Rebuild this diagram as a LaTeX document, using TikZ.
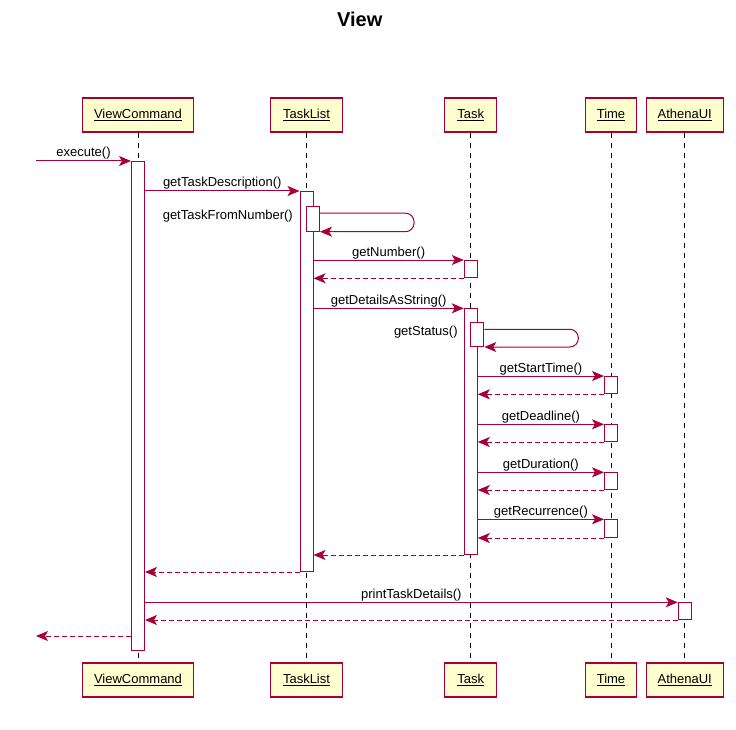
\documentclass[tikz,border=0pt]{standalone}
\usepackage{fontspec}
\setmainfont{Liberation Sans}
\usetikzlibrary{arrows.meta,calc}
\definecolor{pu}{HTML}{A80036}
\definecolor{pufill}{HTML}{FEFECE}
\begin{document}
\begin{tikzpicture}[x=1pt,y=-1pt,
  part/.style={draw=pu, line width=1.1pt, fill=pufill, minimum height=34pt, inner sep=0pt, font=\fontsize{13}{15}\selectfont},
  act/.style={draw=pu, line width=1pt, fill=white, minimum width=13pt, inner sep=0pt, anchor=north},
  life/.style={black, line width=0.9pt, dash pattern=on 5pt off 5pt},
  msg/.style={pu, line width=1pt, -{Stealth[length=12pt,width=10pt,inset=3pt]}},
  ret/.style={msg, dash pattern=on 5pt off 3pt},
  lbl/.style={font=\fontsize{13}{15}\selectfont, text=black, inner sep=0pt, anchor=base, yshift=4pt},
  slbl/.style={font=\fontsize{13}{15}\selectfont, text=black, inner sep=0pt, anchor=base east},
  title/.style={font=\bfseries\fontsize{20}{24}\selectfont, inner sep=0pt, anchor=base}
]
\useasboundingbox (0,0) rectangle (736,730);
\fill[white] (0,0) rectangle (736,730);

\node[title] (ttl) at (359.7,26.7) {View};

% participants top
\node[part, minimum width=111pt] (vc) at (138,115) {\underline{ViewCommand}};
\node[part, minimum width=72pt] (tl) at (306.5,115) {\underline{TaskList}};
\node[part, minimum width=52pt] (tk) at (470.8,115) {\underline{Task}};
\node[part, minimum width=51pt] (tm) at (611,115) {\underline{Time}};
\node[part, minimum width=77pt] (au) at (684.7,115) {\underline{AthenaUI}};
% participants bottom
\node[part, minimum width=111pt] (vcb) at (138,680) {\underline{ViewCommand}};
\node[part, minimum width=72pt] (tlb) at (306.5,680) {\underline{TaskList}};
\node[part, minimum width=52pt] (tkb) at (470.8,680) {\underline{Task}};
\node[part, minimum width=51pt] (tmb) at (611,680) {\underline{Time}};
\node[part, minimum width=77pt] (aub) at (684.7,680) {\underline{AthenaUI}};

% lifelines
\draw[life] (vc.south) -- (vcb.north);
\draw[life] (tl.south) -- (tlb.north);
\draw[life] (tk.south) -- (tkb.north);
\draw[life] (tm.south) -- (tmb.north);
\draw[life] (au.south) -- (aub.north);

% activations
\node[act, minimum height=489pt] (vcA) at (138,161) {};
\node[act, minimum height=380pt] (tlA) at (306.5,191) {};
\node[act, minimum height=25pt] (tlS) at (313,205.7) {};
\node[act, minimum height=17.3pt] (tkA1) at (470.8,260) {};
\node[act, minimum height=245.7pt] (tkA2) at (470.8,308.3) {};
\node[act, minimum height=24.3pt] (tkS) at (477.3,321.7) {};
\node[act, minimum height=17.3pt] (tmA1) at (611,376) {};
\node[act, minimum height=16.7pt] (tmA2) at (611,424.3) {};
\node[act, minimum height=16.7pt] (tmA3) at (611,472.3) {};
\node[act, minimum height=17.7pt] (tmA4) at (611,519.3) {};
\node[act, minimum height=16.7pt] (auA) at (684.7,602.3) {};

\coordinate (ext) at (36,161);
\coordinate (fin) at (36,636);

% messages
\draw[msg] (ext) -- node[lbl] {execute()} (vcA.north west);
\draw[msg] (vcA.east |- tlA.north) -- node[lbl] {getTaskDescription()} (tlA.north west);

\draw[msg, rounded corners=8.5pt] ([yshift=-7.5pt]tlS.north east) -- ++(94,0) |- (tlS.south east);
\node[slbl] (l1) at ([xshift=-13pt, yshift=-13.3pt]tlS.north west) {getTaskFromNumber()};

\draw[msg] (tlA.east |- tkA1.north) -- node[lbl] {getNumber()} (tkA1.north west);
\draw[ret] (tkA1.south west) -- (tlA.east |- tkA1.south);

\draw[msg] (tlA.east |- tkA2.north) -- node[lbl] {getDetailsAsString()} (tkA2.north west);

\draw[msg, rounded corners=8.5pt] ([yshift=-7.6pt]tkS.north east) -- ++(94,0) |- (tkS.south east);
\node[slbl] (l2) at ([xshift=-12.5pt, yshift=-13.3pt]tkS.north west) {getStatus()};

\draw[msg] (tkA2.east |- tmA1.north) -- node[lbl] {getStartTime()} (tmA1.north west);
\draw[ret] (tmA1.south west) -- (tkA2.east |- tmA1.south);
\draw[msg] (tkA2.east |- tmA2.north) -- node[lbl] {getDeadline()} (tmA2.north west);
\draw[ret] (tmA2.south west) -- (tkA2.east |- tmA2.south);
\draw[msg] (tkA2.east |- tmA3.north) -- node[lbl] {getDuration()} (tmA3.north west);
\draw[ret] (tmA3.south west) -- (tkA2.east |- tmA3.south);
\draw[msg] (tkA2.east |- tmA4.north) -- node[lbl] {getRecurrence()} (tmA4.north west);
\draw[ret] (tmA4.south west) -- (tkA2.east |- tmA4.south);

\draw[ret] (tkA2.south west) -- (tlA.east |- tkA2.south);
\draw[ret] (tlA.south west) -- (vcA.east |- tlA.south);

\draw[msg] (vcA.east |- auA.north) -- node[lbl] {printTaskDetails()} (auA.north west);
\draw[ret] (auA.south west) -- (vcA.east |- auA.south);

\draw[ret] (vcA.west |- fin) -- (fin);
\end{tikzpicture}
\end{document}
